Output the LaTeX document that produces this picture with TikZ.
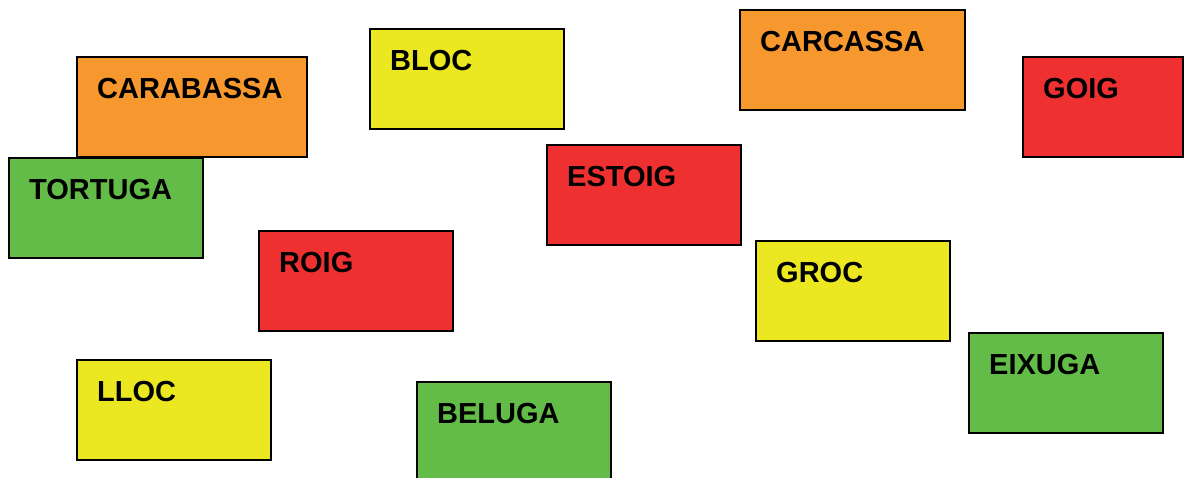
\documentclass[tikz,border=0pt]{standalone}
\usepackage{fontspec}
\newfontfamily\boxfont{Liberation Sans}
\definecolor{taronja}{RGB}{247,152,46}
\definecolor{groc}{RGB}{235,232,33}
\definecolor{vermell}{RGB}{239,48,48}
\definecolor{verd}{RGB}{98,188,71}

\begin{document}
\begin{tikzpicture}[x=1pt,y=-1pt]
\tikzstyle{Card}=[draw, line width=1.2pt, anchor=north west, outer sep=0pt, inner sep=0pt, minimum width=194pt, minimum height=100pt];
\tikzstyle{Word}=[anchor=north west, inner sep=0pt, xshift=20pt, yshift=-21pt, font=\boxfont\bfseries\fontsize{29}{34}\selectfont];
\useasboundingbox (0,0) rectangle (1184,477);
\node [Card,fill=taronja,minimum width=230pt,label={[Word]north west:CARABASSA}] (v1) at (77,57) {};
\node [Card,fill=groc,label={[Word]north west:BLOC}] (v2) at (370,29) {};
\node [Card,fill=taronja,minimum width=225pt,label={[Word]north west:CARCASSA}] (v3) at (740,10) {};
\node [Card,fill=vermell,minimum width=160pt,label={[Word]north west:GOIG}] (v4) at (1023,57) {};
\node [Card,fill=verd,label={[Word]north west:TORTUGA}] (v5) at (9,158) {};
\node [Card,fill=vermell,label={[Word]north west:ESTOIG}] (v6) at (547,145) {};
\node [Card,fill=vermell,label={[Word]north west:ROIG}] (v7) at (259,231) {};
\node [Card,fill=groc,label={[Word]north west:GROC}] (v8) at (756,241) {};
\node [Card,fill=verd,label={[Word]north west:EIXUGA}] (v9) at (969,333) {};
\node [Card,fill=groc,label={[Word]north west:LLOC}] (v10) at (77,360) {};
\node [Card,fill=verd,label={[Word]north west:BELUGA}] (v11) at (417,382) {};
\end{tikzpicture}
\end{document}
